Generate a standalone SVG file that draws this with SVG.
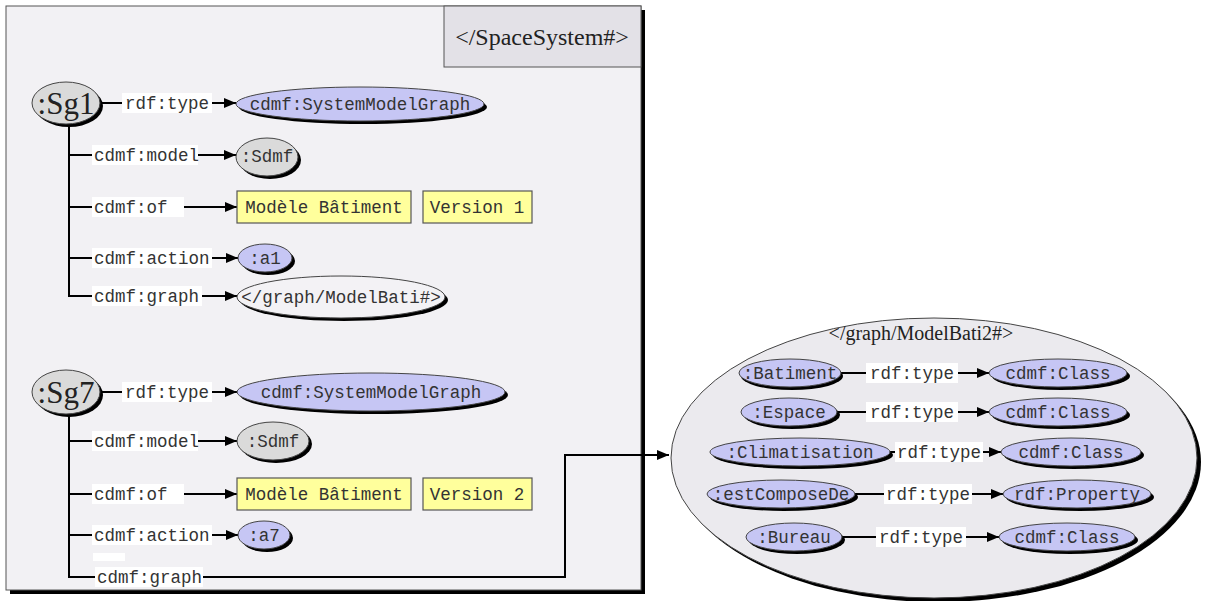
<svg xmlns="http://www.w3.org/2000/svg" width="1206" height="601" viewBox="0 0 1206 601">
<defs>
<marker id="arr" viewBox="0 0 12 10" refX="12" refY="5" markerWidth="12" markerHeight="10" markerUnits="userSpaceOnUse" orient="auto">
<path d="M0,0 L12,5 L0,10 Z" fill="#000"/>
</marker>
</defs>
<style>
.m{font-family:"Liberation Mono","DejaVu Sans Mono",monospace;font-size:17.5px;fill:#333}
.c{text-anchor:middle}
.s{font-family:"Liberation Serif","DejaVu Serif",serif;fill:#222}
.sh{fill:#000}
.blue{fill:#c6c6f4;stroke:#444;stroke-width:1}
.gray{fill:#dadada;stroke:#444;stroke-width:1}
.pale{fill:#f3f2f5;stroke:#444;stroke-width:1}
.yel{fill:#ffff9c;stroke:#555;stroke-width:1.2}
.lbl{fill:#fff}
.ln{fill:none;stroke:#000;stroke-width:2}
</style>
<rect width="1206" height="601" fill="#fff"/>
<g id="spaceSystem">
<rect x="10" y="10" width="635" height="584" fill="#000"/>
<rect x="6" y="6" width="635" height="584" fill="#f2f1f4" stroke="#555" stroke-width="1"/>
<rect x="444" y="6" width="197" height="61" fill="#e3e1e7" stroke="#555" stroke-width="1"/>
<text class="s" x="542" y="45" font-size="24" text-anchor="middle">&lt;/SpaceSystem#&gt;</text>
</g>
<g id="modelBati2">
<ellipse cx="938" cy="462" rx="263" ry="140" class="sh"/>
<ellipse cx="934" cy="458" rx="263" ry="140" fill="#ebeaee" stroke="#444" stroke-width="1"/>
<text class="s" x="921" y="340" font-size="20" text-anchor="middle">&lt;/graph/ModelBati2#&gt;</text>
</g>
<g id="connectors">
<path class="ln" d="M100,103 H236" marker-end="url(#arr)"/>
<path class="ln" d="M69,124 V296 H237" marker-end="url(#arr)"/>
<path class="ln" d="M69,155 H236" marker-end="url(#arr)"/>
<path class="ln" d="M69,207 H237" marker-end="url(#arr)"/>
<path class="ln" d="M69,258 H238" marker-end="url(#arr)"/>
<path class="ln" d="M100,392 H237" marker-end="url(#arr)"/>
<path class="ln" d="M69,413 V577 H100"/>
<path class="ln" d="M69,441 H237" marker-end="url(#arr)"/>
<path class="ln" d="M69,494 H237" marker-end="url(#arr)"/>
<path class="ln" d="M69,535 H238" marker-end="url(#arr)"/>
<path class="ln" d="M200,577 H565 V455 H669" marker-end="url(#arr)"/>
<path class="ln" d="M841,373 H989" marker-end="url(#arr)"/>
<path class="ln" d="M837,412 H989" marker-end="url(#arr)"/>
<path class="ln" d="M890,452 H1001" marker-end="url(#arr)"/>
<path class="ln" d="M855,494 H1003" marker-end="url(#arr)"/>
<path class="ln" d="M842,537 H999" marker-end="url(#arr)"/>
<rect class="lbl" x="122" y="93" width="90" height="20"/><text class="m" x="125" y="109">rdf:type</text>
<rect class="lbl" x="92" y="145" width="106" height="20"/><text class="m" x="94" y="161">cdmf:model</text>
<rect class="lbl" x="92" y="197" width="92" height="20"/><text class="m" x="94" y="213">cdmf:of</text>
<rect class="lbl" x="92" y="248" width="120" height="20"/><text class="m" x="94" y="264">cdmf:action</text>
<rect class="lbl" x="92" y="286" width="110" height="20"/><text class="m" x="94" y="302">cdmf:graph</text>
<rect class="lbl" x="122" y="382" width="90" height="20"/><text class="m" x="125" y="398">rdf:type</text>
<rect class="lbl" x="92" y="431" width="106" height="20"/><text class="m" x="94" y="447">cdmf:model</text>
<rect class="lbl" x="92" y="484" width="92" height="20"/><text class="m" x="94" y="500">cdmf:of</text>
<rect class="lbl" x="92" y="525" width="120" height="20"/><text class="m" x="94" y="541">cdmf:action</text>
<rect class="lbl" x="93" y="553" width="32" height="8"/>
<rect class="lbl" x="95" y="567" width="108" height="20"/><text class="m" x="97" y="583">cdmf:graph</text>
<rect class="lbl" x="866" y="363" width="92" height="20"/><text class="m" x="870" y="379">rdf:type</text>
<rect class="lbl" x="866" y="402" width="92" height="20"/><text class="m" x="870" y="418">rdf:type</text>
<rect class="lbl" x="895" y="442" width="88" height="20"/><text class="m" x="897" y="458">rdf:type</text>
<rect class="lbl" x="884" y="484" width="88" height="20"/><text class="m" x="886" y="500">rdf:type</text>
<rect class="lbl" x="876" y="527" width="90" height="20"/><text class="m" x="879" y="543">rdf:type</text>
</g>
<g id="sg1">
<ellipse cx="69" cy="106" rx="34" ry="21" class="sh"/>
<ellipse cx="66" cy="103" rx="34" ry="21" class="gray"/>
<text class="s c" x="66" y="114" font-size="31">:Sg1</text>
</g>
<g id="smg1">
<ellipse cx="363" cy="107" rx="124" ry="17" class="sh"/>
<ellipse cx="360" cy="104" rx="124" ry="17" class="blue"/>
<text class="m c" x="360" y="110">cdmf:SystemModelGraph</text>
</g>
<g id="sdmf1">
<ellipse cx="270" cy="160" rx="31" ry="19" class="sh"/>
<ellipse cx="267" cy="157" rx="31" ry="19" class="gray"/>
<text class="m c" x="267" y="162">:Sdmf</text>
</g>
<g id="modele1">
<rect x="237" y="191" width="174" height="32" class="yel"/>
<text class="m c" x="324" y="213">Modèle Bâtiment</text>
</g>
<g id="version1">
<rect x="423" y="191" width="109" height="32" class="yel"/>
<text class="m c" x="477" y="213">Version 1</text>
</g>
<g id="a1">
<ellipse cx="268" cy="261" rx="27" ry="14" class="sh"/>
<ellipse cx="265" cy="258" rx="27" ry="14" class="blue"/>
<text class="m c" x="265" y="264">:a1</text>
</g>
<g id="graphModelBati">
<ellipse cx="344" cy="300" rx="104" ry="21" class="sh"/>
<ellipse cx="341" cy="297" rx="104" ry="21" class="pale"/>
<text class="m c" x="341" y="303">&lt;/graph/ModelBati#&gt;</text>
</g>
<g id="sg7">
<ellipse cx="69" cy="395" rx="34" ry="22" class="sh"/>
<ellipse cx="66" cy="392" rx="34" ry="22" class="gray"/>
<text class="s c" x="66" y="403" font-size="31">:Sg7</text>
</g>
<g id="smg7">
<ellipse cx="374" cy="395" rx="134" ry="19" class="sh"/>
<ellipse cx="371" cy="392" rx="134" ry="19" class="blue"/>
<text class="m c" x="371" y="398">cdmf:SystemModelGraph</text>
</g>
<g id="sdmf7">
<ellipse cx="276" cy="444" rx="36" ry="19" class="sh"/>
<ellipse cx="273" cy="441" rx="36" ry="19" class="gray"/>
<text class="m c" x="273" y="447">:Sdmf</text>
</g>
<g id="modele2">
<rect x="237" y="478" width="174" height="32" class="yel"/>
<text class="m c" x="324" y="500">Modèle Bâtiment</text>
</g>
<g id="version2">
<rect x="423" y="478" width="109" height="32" class="yel"/>
<text class="m c" x="477" y="500">Version 2</text>
</g>
<g id="a7">
<ellipse cx="267" cy="538" rx="26" ry="14" class="sh"/>
<ellipse cx="264" cy="535" rx="26" ry="14" class="blue"/>
<text class="m c" x="264" y="541">:a7</text>
</g>
<g id="batiment">
<ellipse cx="792" cy="376" rx="51" ry="14" class="sh"/>
<ellipse cx="790" cy="373" rx="51" ry="14" class="blue"/>
<text class="m c" x="790" y="379">:Batiment</text>
</g>
<g id="class1">
<ellipse cx="1061" cy="376" rx="69" ry="14" class="sh"/>
<ellipse cx="1058" cy="373" rx="69" ry="14" class="blue"/>
<text class="m c" x="1058" y="379">cdmf:Class</text>
</g>
<g id="espace">
<ellipse cx="792" cy="415" rx="48" ry="14" class="sh"/>
<ellipse cx="789" cy="412" rx="48" ry="14" class="blue"/>
<text class="m c" x="789" y="418">:Espace</text>
</g>
<g id="class2">
<ellipse cx="1061" cy="415" rx="69" ry="14" class="sh"/>
<ellipse cx="1058" cy="412" rx="69" ry="14" class="blue"/>
<text class="m c" x="1058" y="418">cdmf:Class</text>
</g>
<g id="climatisation">
<ellipse cx="803" cy="455" rx="90" ry="14" class="sh"/>
<ellipse cx="800" cy="452" rx="90" ry="14" class="blue"/>
<text class="m c" x="800" y="458">:Climatisation</text>
</g>
<g id="class3">
<ellipse cx="1074" cy="455" rx="70" ry="14" class="sh"/>
<ellipse cx="1071" cy="452" rx="70" ry="14" class="blue"/>
<text class="m c" x="1071" y="458">cdmf:Class</text>
</g>
<g id="estComposeDe">
<ellipse cx="784" cy="497" rx="74" ry="14" class="sh"/>
<ellipse cx="781" cy="494" rx="74" ry="14" class="blue"/>
<text class="m c" x="781" y="500">:estComposeDe</text>
</g>
<g id="property">
<ellipse cx="1080" cy="497" rx="74" ry="14" class="sh"/>
<ellipse cx="1077" cy="494" rx="74" ry="14" class="blue"/>
<text class="m c" x="1077" y="500">rdf:Property</text>
</g>
<g id="bureau">
<ellipse cx="797" cy="540" rx="48" ry="14" class="sh"/>
<ellipse cx="794" cy="537" rx="48" ry="14" class="blue"/>
<text class="m c" x="794" y="543">:Bureau</text>
</g>
<g id="class5">
<ellipse cx="1070" cy="540" rx="68" ry="14" class="sh"/>
<ellipse cx="1067" cy="537" rx="68" ry="14" class="blue"/>
<text class="m c" x="1067" y="543">cdmf:Class</text>
</g>
</svg>
